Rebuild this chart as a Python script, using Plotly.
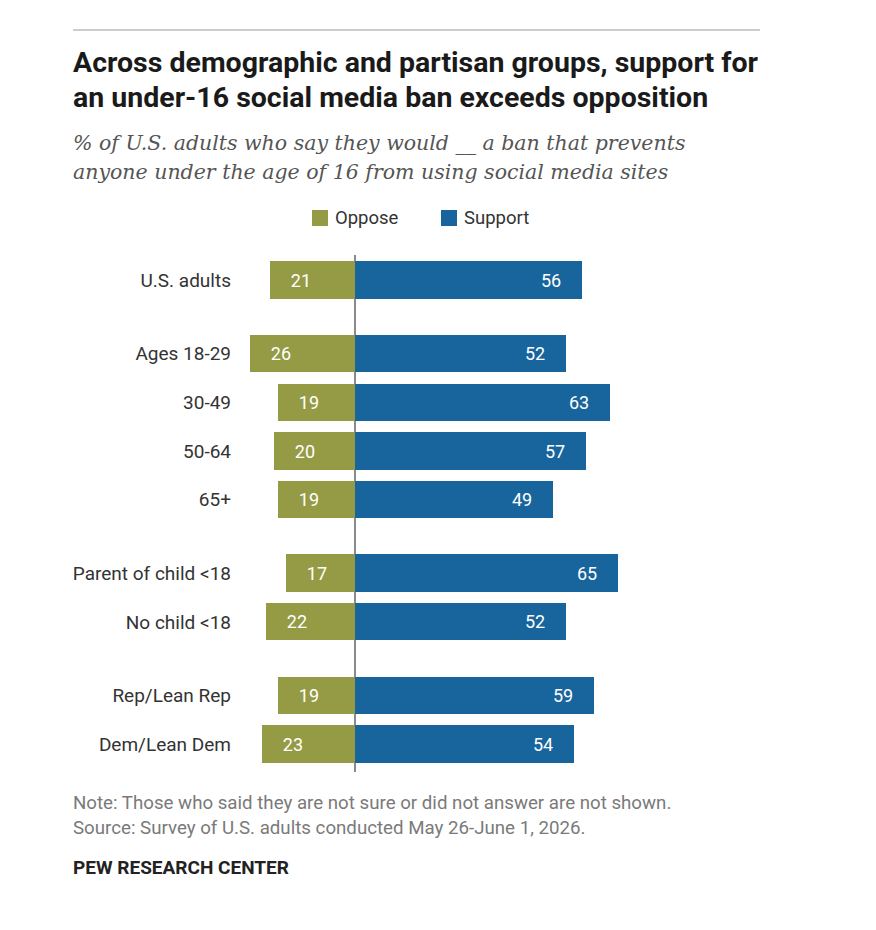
import plotly.graph_objects as go

# data
groups = [
    ["U.S. adults"],
    ["Ages 18-29", "30-49", "50-64", "65+"],
    ["Parent of child <18", "No child <18"],
    ["Rep/Lean Rep", "Dem/Lean Dem"],
]
categories = [c for g in groups for c in g]
oppose = [21, 26, 19, 20, 19, 17, 22, 19, 23]
support = [56, 52, 63, 57, 49, 65, 52, 59, 54]

OPPOSE_COLOR = "#959b45"
SUPPORT_COLOR = "#17659c"
FONT = "Roboto"

# row positions with a half-row gap between groups
ypos = []
pos = 0.0
for gi, g in enumerate(groups):
    if gi > 0:
        pos += 0.5
    for _ in g:
        ypos.append(pos)
        pos += 1

# page offset of the figure (body margin) and plot area in page pixels
OFF = 8
W, H = 876, 930
L, R, T, B = 240, 700, 255, 772


def px(x):
    return (x - L) / (R - L)


def py(y):
    return (B - y) / (B - T)


fig = go.Figure()
fig.add_trace(go.Bar(
    y=ypos, x=[-v for v in oppose], orientation="h", name="Oppose",
    marker=dict(color=OPPOSE_COLOR, line=dict(width=0)),
    text=oppose, texttemplate="    %{text}", textposition="inside",
    insidetextanchor="end", textfont=dict(color="white", size=18, family=FONT),
    width=0.76, showlegend=False,
))
fig.add_trace(go.Bar(
    y=ypos, x=support, orientation="h", name="Support",
    marker=dict(color=SUPPORT_COLOR, line=dict(width=0)),
    text=support, texttemplate="%{text}    ", textposition="inside",
    insidetextanchor="end", textfont=dict(color="white", size=18, family=FONT),
    width=0.76, showlegend=False,
))

# x: zero at 355px, ~4.05 px per point
scale = 4.05
fig.update_xaxes(
    range=[-(355 - L) / scale, (R - 355) / scale],
    showgrid=False, showticklabels=False, zeroline=True,
    zerolinecolor="#8a8a8a", zerolinewidth=1.5,
)
y_unit = (744 - 280) / ypos[-1]
fig.update_yaxes(
    range=[(B - 280) / y_unit, -(280 - T) / y_unit],
    tickvals=ypos, ticktext=categories, ticks="", showgrid=False,
    zeroline=False, ticklabelstandoff=8,
    tickfont=dict(size=19, color="#333333", family=FONT),
)

annotations = []


def text(x, y, s, size, color="#1a1a1a", family=FONT, **kw):
    annotations.append(dict(
        x=px(x), y=py(y), xref="paper", yref="paper", text=s, showarrow=False,
        xanchor="left", yanchor="middle",
        font=dict(size=size, color=color, family=family), **kw,
    ))


text(71, 63, "<b>Across demographic and partisan groups, support for</b>", 28.5)
text(71, 97, "<b>an under-16 social media ban exceeds opposition</b>", 28.5)
text(71, 143, "<i>% of U.S. adults who say they would __ a ban that prevents</i>", 20.5,
     color="#555555", family="DejaVu Serif")
text(71, 172, "<i>anyone under the age of 16 from using social media sites</i>", 20.5,
     color="#555555", family="DejaVu Serif")
text(333, 218, "Oppose", 18.5, color="#333333")
text(462, 218, "Support", 18.5, color="#333333")
text(71, 803, "Note: Those who said they are not sure or did not answer are not shown.", 18.7,
     color="#7a7a7a")
text(71, 828, "Source: Survey of U.S. adults conducted May 26-June 1, 2026.", 18.7,
     color="#7a7a7a")
text(71, 867, "<b>PEW RESEARCH CENTER</b>", 19, color="#222222")

shapes = [
    dict(type="line", xref="paper", yref="paper", x0=px(73), x1=px(760),
         y0=py(30), y1=py(30), line=dict(color="#9a9a9a", width=1)),
    dict(type="rect", xref="paper", yref="paper", x0=px(312), x1=px(328),
         y0=py(226), y1=py(210), fillcolor=OPPOSE_COLOR, line=dict(width=0)),
    dict(type="rect", xref="paper", yref="paper", x0=px(441), x1=px(457),
         y0=py(226), y1=py(210), fillcolor=SUPPORT_COLOR, line=dict(width=0)),
]

fig.update_layout(
    width=W, height=H, barmode="relative", bargap=0,
    margin=dict(l=L - OFF, r=W - R + OFF, t=T - OFF, b=H - B + OFF, autoexpand=False),
    plot_bgcolor="white", paper_bgcolor="white",
    annotations=annotations, shapes=shapes,
    font=dict(family=FONT),
)

fig.write_html("out.html")
